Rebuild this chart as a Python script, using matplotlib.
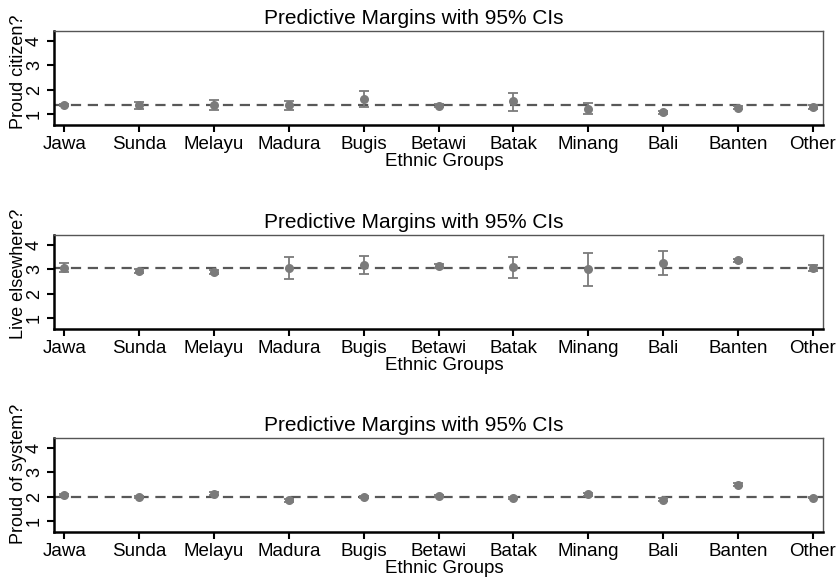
"""
Predictive margins (95% CIs) by ethnic group, three outcomes.
"""

import numpy as np
import matplotlib
matplotlib.use('Agg')
import matplotlib.pyplot as plt

plt.rcParams['font.family'] = ['Liberation Sans', 'DejaVu Sans']

groups = ['Jawa', 'Sunda', 'Melayu', 'Madura', 'Bugis', 'Betawi',
          'Batak', 'Minang', 'Bali', 'Banten', 'Other']

# Proud citizen?
citizen_mean = [1.36, 1.35, 1.38, 1.36, 1.61, 1.34, 1.52, 1.22, 1.07, 1.25, 1.29]
citizen_lo   = [1.31, 1.21, 1.17, 1.16, 1.27, 1.29, 1.14, 1.00, 1.01, 1.19, 1.22]
citizen_hi   = [1.41, 1.49, 1.59, 1.55, 1.94, 1.39, 1.85, 1.47, 1.13, 1.31, 1.36]
citizen_ref = 1.35

# Live elsewhere?
live_mean = [3.07, 2.93, 2.89, 3.07, 3.19, 3.14, 3.08, 3.01, 3.27, 3.37, 3.07]
live_lo   = [2.89, 2.86, 2.82, 2.61, 2.81, 3.07, 2.64, 2.31, 2.78, 3.30, 2.95]
live_hi   = [3.25, 3.00, 2.96, 3.52, 3.57, 3.21, 3.52, 3.68, 3.74, 3.44, 3.19]
live_ref = 3.04

# Proud of system?
system_mean = [2.07, 1.99, 2.13, 1.85, 2.00, 2.04, 1.94, 2.11, 1.88, 2.49, 1.97]
system_lo   = [2.02, 1.95, 2.07, 1.79, 1.95, 1.99, 1.89, 2.05, 1.82, 2.43, 1.93]
system_hi   = [2.12, 2.03, 2.19, 1.91, 2.05, 2.09, 1.99, 2.17, 1.94, 2.55, 2.01]
system_ref = 2.00

panels = [
    ('Proud citizen?', citizen_mean, citizen_lo, citizen_hi, citizen_ref),
    ('Live elsewhere?', live_mean, live_lo, live_hi, live_ref),
    ('Proud of system?', system_mean, system_lo, system_hi, system_ref),
]

MARK = '#7b7b7b'
DASH = '#585858'

fig = plt.figure(figsize=(8.4, 5.78), dpi=100)
bottoms = [0.784, 0.431, 0.0796]
ylab_pos = [0.57, 0.585, 0.62]   # Stata puts the y titles a bit above centre

for (ylab, mean, lo, hi, ref), b, yl in zip(panels, bottoms, ylab_pos):
    ax = fig.add_axes([0.0643, b, 0.9155, 0.1626])
    x = np.arange(len(groups))
    mean = np.array(mean)
    err = np.vstack([mean - np.array(lo), np.array(hi) - mean])

    ax.axhline(ref, color=DASH, linewidth=1.6, dashes=(4.6, 3.0), zorder=1)
    ax.errorbar(x, mean, yerr=err, fmt='none', ecolor=MARK, elinewidth=1.3,
                capsize=3.3, capthick=1.3, zorder=2)
    ax.plot(x, mean, 'o', color=MARK, markersize=6.5, markeredgewidth=0, zorder=3)

    ax.set_xlim(-0.14, 10.14)
    ax.set_ylim(0.55, 4.42)
    ax.set_xticks(x)
    ax.set_xticklabels(groups, fontsize=13.5)
    ax.set_yticks([1, 2, 3, 4])
    ax.set_yticklabels(['1', '2', '3', '4'], fontsize=13, rotation=90, va='center')
    ax.set_title('Predictive Margins with 95% CIs', fontsize=15, pad=5, x=0.468)
    ax.set_xlabel('Ethnic Groups', fontsize=13.5, labelpad=0)
    ax.xaxis.set_label_coords(0.507, -0.30)
    ax.set_ylabel(ylab, fontsize=13)
    ax.yaxis.set_label_coords(-0.035, yl)

    ax.tick_params(axis='both', direction='out', length=5, width=1.5,
                   color='black', pad=3)
    for side in ['left', 'bottom']:
        ax.spines[side].set_linewidth(1.8)
        ax.spines[side].set_color('black')
    for side in ['top', 'right']:
        ax.spines[side].set_linewidth(1.0)
        ax.spines[side].set_color('#555555')

plt.savefig('out.png', dpi=100)
